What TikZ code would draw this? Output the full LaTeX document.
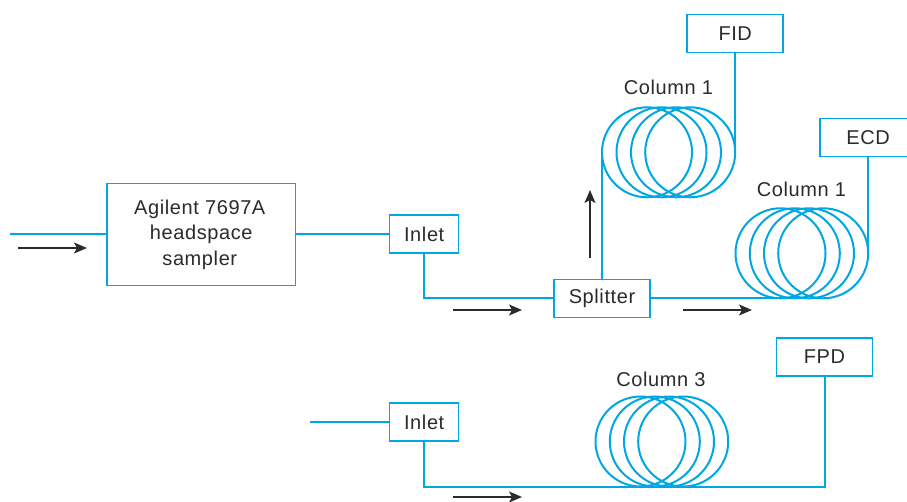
\documentclass[tikz,border=0pt]{standalone}
\usepackage{fontspec}
\setmainfont[LetterSpace=3]{Liberation Sans}
\definecolor{pipe}{HTML}{00A7E1}
\definecolor{ink}{HTML}{2B2B2B}
\usetikzlibrary{arrows.meta}
\tikzset{
  box/.style={draw=pipe,line width=1.5pt,outer sep=0pt,fill=white,inner sep=0pt,align=center,text=ink,
    font=\fontsize{20}{25.5}\selectfont},
  smallbox/.style={box,minimum width=96pt,minimum height=38pt},
  inletbox/.style={box,minimum width=69pt,minimum height=38pt},
  coil/.style={circle,draw=pipe,line width=2pt,outer sep=0pt,minimum size=90pt,inner sep=0pt},
  pipeline/.style={draw=pipe,line width=2pt},
  thinpipe/.style={draw=pipe,line width=2pt},
  flow/.style={draw=ink,line width=1.2pt,-{Stealth[length=13pt,width=11pt,inset=3pt]}},
  label/.style={text=ink,inner sep=0pt,font=\fontsize{20}{25.5}\selectfont}
}
\begin{document}
\begin{tikzpicture}[x=1pt,y=-1pt]
\useasboundingbox (0,0) rectangle (907,502);
\clip (0,0) rectangle (907,502);
% coils
\foreach \n/\x in {a/647,b/661.5,c/676,d/690.2}
  \node[coil] (one\n) at (\x,152.3) {};
\foreach \n/\x in {a/780.5,b/794.8,c/809,d/823.2}
  \node[coil] (two\n) at (\x,253.3) {};
\foreach \n/\x in {a/640.5,b/654.8,c/669,d/683.2}
  \node[coil] (three\n) at (\x,441.5) {};
% boxes
\node[box,minimum width=188.5pt,minimum height=102pt] (sampler) at (201.3,234.4) {Agilent 7697A\hspace*{3pt}\\headspace\hspace*{3pt}\\sampler\hspace*{3pt}};
\node[inletbox] (inleta) at (424.2,234) {Inlet};
\node[inletbox] (inletb) at (424.2,422) {Inlet};
\node[smallbox] (splitter) at (602,298.3) {Splitter};
\node[smallbox] (fid) at (735.2,33.5) {FID};
\node[smallbox] (ecd) at (868.2,137.7) {ECD};
\node[smallbox] (fpd) at (824.5,357) {FPD};
% labels
\node[label] (labone) at (668.5,87) {Column 1};
\node[label] (labtwo) at (801.5,189) {Column 1};
\node[label] (labthree) at (661,379) {Column 3};
% free ends
\coordinate (feeda) at (10,234);
\coordinate (feedb) at (310,422);
% connectors
\draw[pipeline] (feeda) -- (sampler.west |- feeda);
\draw[pipeline] (sampler.east |- inleta.west) -- (inleta.west);
\draw[pipeline] (inleta.south) |- (splitter.west);
\draw[thinpipe] (splitter.north) -- (onea.west);
\draw[pipeline] (splitter.east) -- (twob.south);
\draw[thinpipe] (fid.south) -- (oned.east);
\draw[thinpipe] (ecd.south) -- (twod.east);
\draw[thinpipe] (feedb) -- (inletb.west);
\draw[pipeline] (inletb.south) |- (threeb.south) -| (fpd.south);
% flow arrows
\coordinate (fa1) at (18,248); \coordinate (fa2) at (87,248);
\coordinate (fb1) at (453,310); \coordinate (fb2) at (522,310);
\coordinate (fc1) at (683,310); \coordinate (fc2) at (752,310);
\coordinate (fd1) at (453,497); \coordinate (fd2) at (522,497);
\coordinate (fe1) at (590,258); \coordinate (fe2) at (590,190);
\draw[flow] (fa1) -- (fa2);
\draw[flow] (fb1) -- (fb2);
\draw[flow] (fc1) -- (fc2);
\draw[flow] (fd1) -- (fd2);
\draw[flow] (fe1) -- (fe2);
\end{tikzpicture}
\end{document}
